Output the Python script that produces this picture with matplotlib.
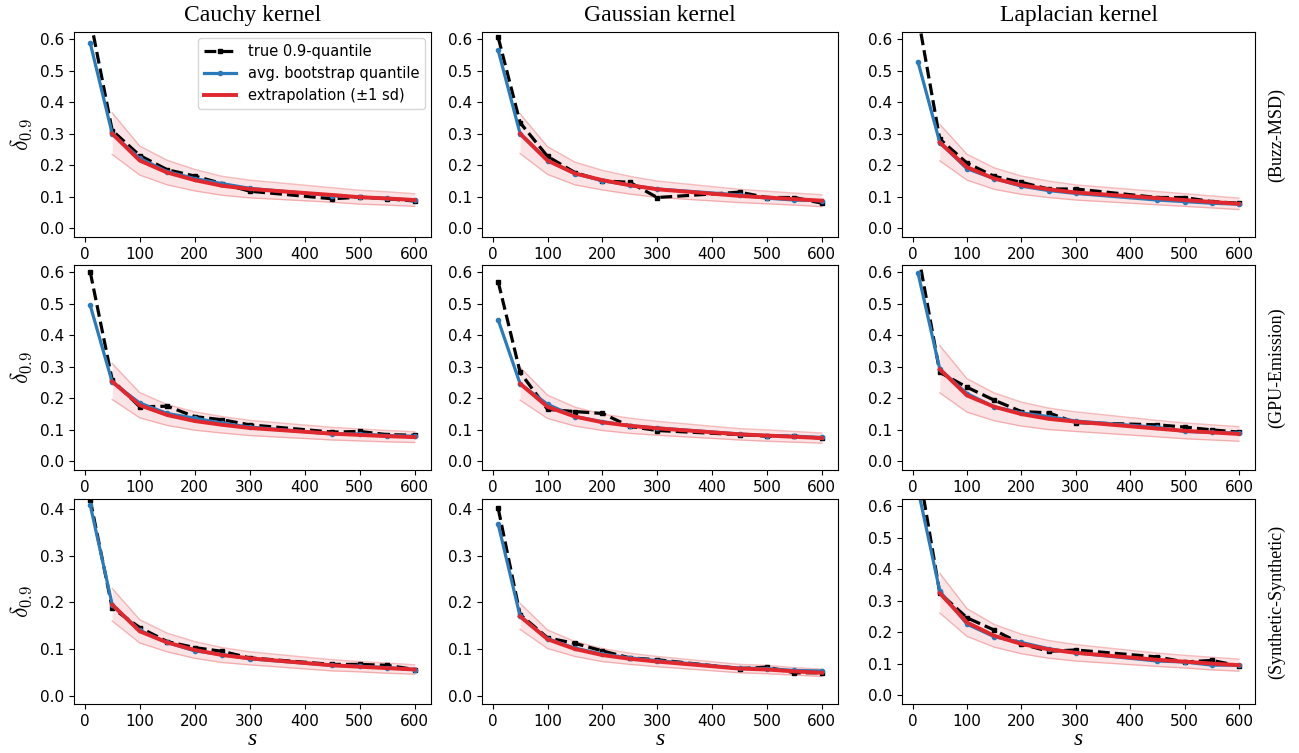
import matplotlib
matplotlib.use("Agg")
import matplotlib.pyplot as plt
import numpy as np

plt.rcParams['mathtext.fontset'] = 'cm'

# sample sizes
s_true = [10, 50, 100, 150, 200, 250, 300, 450, 500, 550, 600]
s_ext = [50, 100, 150, 200, 250, 300, 450, 500, 550, 600]

kernels = ["Cauchy kernel", "Gaussian kernel", "Laplacian kernel"]
datasets = ["(Buzz-MSD)", "(GPU-Emission)", "(Synthetic-Synthetic)"]

# true 0.9-quantile (rows: datasets, cols: kernels)
true_q = [
    [[0.664, 0.310, 0.231, 0.186, 0.166, 0.142, 0.118, 0.094, 0.099, 0.094, 0.087],
     [0.605, 0.335, 0.228, 0.177, 0.151, 0.146, 0.098, 0.115, 0.098, 0.098, 0.080],
     [0.670, 0.283, 0.207, 0.165, 0.146, 0.125, 0.125, 0.098, 0.098, 0.085, 0.080]],
    [[0.600, 0.258, 0.173, 0.175, 0.142, 0.132, 0.116, 0.093, 0.095, 0.085, 0.083],
     [0.569, 0.282, 0.165, 0.158, 0.152, 0.111, 0.098, 0.085, 0.080, 0.080, 0.074],
     [0.660, 0.282, 0.235, 0.194, 0.158, 0.154, 0.123, 0.116, 0.109, 0.100, 0.093]],
    [[0.420, 0.188, 0.146, 0.116, 0.103, 0.095, 0.081, 0.067, 0.067, 0.065, 0.056],
     [0.402, 0.174, 0.124, 0.112, 0.096, 0.081, 0.077, 0.058, 0.061, 0.049, 0.049],
     [0.730, 0.324, 0.246, 0.207, 0.163, 0.140, 0.144, 0.122, 0.106, 0.111, 0.094]],
]

# average bootstrap quantile
boot_q = [
    [[0.587, 0.300, 0.222, 0.180, 0.158, 0.142, 0.127, 0.104, 0.099, 0.095, 0.090],
     [0.564, 0.300, 0.215, 0.174, 0.151, 0.137, 0.125, 0.106, 0.096, 0.090, 0.088],
     [0.527, 0.272, 0.189, 0.158, 0.134, 0.120, 0.111, 0.090, 0.085, 0.080, 0.077]],
    [[0.494, 0.251, 0.185, 0.152, 0.137, 0.121, 0.109, 0.087, 0.087, 0.082, 0.080],
     [0.448, 0.246, 0.181, 0.142, 0.126, 0.113, 0.106, 0.087, 0.082, 0.080, 0.076],
     [0.596, 0.292, 0.215, 0.173, 0.154, 0.142, 0.128, 0.108, 0.095, 0.092, 0.090]],
    [[0.409, 0.195, 0.140, 0.114, 0.096, 0.088, 0.079, 0.065, 0.063, 0.060, 0.056],
     [0.368, 0.170, 0.122, 0.102, 0.089, 0.081, 0.075, 0.059, 0.058, 0.054, 0.053],
     [0.652, 0.330, 0.226, 0.186, 0.168, 0.148, 0.135, 0.109, 0.106, 0.096, 0.096]],
]

# extrapolation mean
ext_mean = [
    [[0.300, 0.215, 0.177, 0.153, 0.135, 0.125, 0.106, 0.099, 0.095, 0.090],
     [0.300, 0.215, 0.174, 0.153, 0.137, 0.124, 0.103, 0.098, 0.093, 0.088],
     [0.272, 0.194, 0.158, 0.137, 0.124, 0.114, 0.096, 0.090, 0.084, 0.078]],
    [[0.253, 0.178, 0.147, 0.128, 0.116, 0.106, 0.088, 0.084, 0.080, 0.077],
     [0.246, 0.173, 0.142, 0.124, 0.113, 0.105, 0.086, 0.082, 0.078, 0.074],
     [0.292, 0.209, 0.173, 0.150, 0.135, 0.126, 0.104, 0.097, 0.092, 0.087]],
    [[0.195, 0.138, 0.114, 0.098, 0.087, 0.080, 0.065, 0.062, 0.059, 0.056],
     [0.170, 0.121, 0.100, 0.087, 0.079, 0.073, 0.058, 0.056, 0.052, 0.049],
     [0.324, 0.231, 0.189, 0.163, 0.146, 0.135, 0.113, 0.107, 0.101, 0.096]],
]

# extrapolation standard deviation
ext_sd = [
    [[0.066, 0.046, 0.039, 0.034, 0.030, 0.028, 0.023, 0.022, 0.021, 0.020],
     [0.063, 0.044, 0.036, 0.031, 0.028, 0.026, 0.021, 0.020, 0.019, 0.019],
     [0.058, 0.041, 0.034, 0.029, 0.026, 0.024, 0.021, 0.020, 0.019, 0.018]],
    [[0.057, 0.040, 0.033, 0.029, 0.026, 0.024, 0.020, 0.019, 0.018, 0.017],
     [0.052, 0.037, 0.030, 0.026, 0.024, 0.022, 0.018, 0.018, 0.017, 0.016],
     [0.075, 0.053, 0.044, 0.038, 0.034, 0.031, 0.026, 0.025, 0.024, 0.023]],
    [[0.035, 0.025, 0.020, 0.018, 0.016, 0.014, 0.012, 0.011, 0.011, 0.010],
     [0.028, 0.020, 0.016, 0.014, 0.012, 0.011, 0.009, 0.009, 0.008, 0.008],
     [0.063, 0.044, 0.036, 0.031, 0.028, 0.026, 0.021, 0.020, 0.020, 0.019]],
]

ylims = [
    [(-0.027, 0.622), (-0.027, 0.622), (-0.027, 0.622)],
    [(-0.027, 0.622), (-0.027, 0.622), (-0.027, 0.622)],
    [(-0.018, 0.422), (-0.018, 0.422), (-0.027, 0.622)],
]

W, H = 1299, 753
fig = plt.figure(figsize=(W / 100, H / 100), dpi=100)

col_left = [74, 482, 902]
col_w = [357, 356, 353]
row_top = [32, 265, 499]
row_h = 205

BLUE = '#2b7bba'
RED = '#e0282e'

for i in range(3):
    for j in range(3):
        ax = fig.add_axes([col_left[j] / W, 1 - (row_top[i] + row_h) / H,
                           col_w[j] / W, row_h / H])
        m = np.array(ext_mean[i][j])
        sd = np.array(ext_sd[i][j])
        ax.fill_between(s_ext, m - sd, m + sd, color=RED, alpha=0.12, lw=0)
        ax.plot(s_ext, m + sd, color=RED, alpha=0.3, lw=1)
        ax.plot(s_ext, m - sd, color=RED, alpha=0.3, lw=1)
        ax.plot(s_true, true_q[i][j], color='black', ls='--', lw=2.3,
                marker='s', ms=3.5, label='true 0.9-quantile')
        ax.plot(s_true, boot_q[i][j], color=BLUE, lw=2.3,
                marker='o', ms=3, label='avg. bootstrap quantile')
        ax.plot(s_ext, m, color=RED, lw=2.8, label='extrapolation (±1 sd)')
        ax.set_ylim(*ylims[i][j])
        ax.set_xticks([0, 100, 200, 300, 400, 500, 600])
        if ylims[i][j][1] < 0.5:
            ax.set_yticks([0.0, 0.1, 0.2, 0.3, 0.4])
        else:
            ax.set_yticks([0.0, 0.1, 0.2, 0.3, 0.4, 0.5, 0.6])
        ax.tick_params(labelsize=11)
        if i == 0:
            ax.set_title(kernels[j], fontsize=17, family='Liberation Serif', pad=8)
        if j == 0:
            ax.set_ylabel(r'$\delta_{0.9}$', fontsize=17)
        if i == 2:
            ax.set_xlabel('s', fontsize=17, family='Liberation Serif',
                          fontstyle='italic', labelpad=0)
        if j == 2:
            ax.text(1.062, 0.5, datasets[i], transform=ax.transAxes,
                    rotation=90, va='center', ha='center', fontsize=13,
                    family='Liberation Serif')
        if i == 0 and j == 0:
            ax.legend(loc='upper right', fontsize=10.5, handlelength=2.2,
                      borderaxespad=0.4)

fig.savefig('out.png', dpi=100)
